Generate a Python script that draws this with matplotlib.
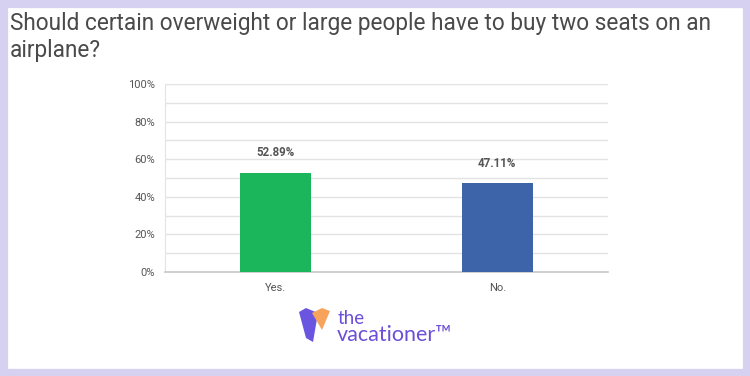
import matplotlib
matplotlib.use("Agg")
import matplotlib.pyplot as plt
from matplotlib.patches import Rectangle, Polygon
from matplotlib.ticker import FuncFormatter

categories = ["Yes.", "No."]
values = [52.89, 47.11]
value_labels = ["52.89%", "47.11%"]
colors = ["#1bb55c", "#3d63a8"]
yticks = [0, 20, 40, 60, 80, 100]

title = "Should certain overweight or large people have to buy two seats on an\nairplane?"

fig = plt.figure(figsize=(7.5, 3.76), dpi=100)
fig.patch.set_facecolor("white")

# lavender frame
fig.add_artist(Rectangle((0, 0), 1, 1, transform=fig.transFigure, fill=False,
                         edgecolor="#d6d1f1", linewidth=11, zorder=0))

fig.text(10/750, 1 - 12/376, title, ha="left", va="top", fontsize=16.3,
         color="#4a4a4a", family=["Roboto", "DejaVu Sans"],
         linespacing=1.2)

ax = fig.add_axes([165/750, 1 - 272/376, 443/750, 188/376])
x = list(range(len(categories)))
ax.bar(x, values, width=0.32, color=colors, zorder=3)
for xi, v, lab in zip(x, values, value_labels):
    ax.annotate(lab, (xi, v), xytext=(0, 10), textcoords="offset points",
                ha="center", va="bottom", fontsize=8.3, fontweight="bold",
                color="#555555", family=["Roboto", "DejaVu Sans"])

ax.set_xlim(-0.5, 1.5)
ax.set_ylim(0, 100)
ax.set_yticks(yticks)
ax.set_yticks(range(10, 100, 20), minor=True)
ax.yaxis.set_major_formatter(FuncFormatter(lambda v, p: f"{int(v)}%"))
ax.set_xticks(x)
ax.set_xticklabels(categories)
ax.grid(axis="y", which="both", color="#e3e3e3", linewidth=1, zorder=0)
ax.tick_params(axis="y", which="both", length=0, pad=7, labelsize=8, labelcolor="#555555")
ax.tick_params(axis="x", length=0, pad=8, labelsize=8, labelcolor="#555555")
for lab in ax.get_xticklabels() + ax.get_yticklabels():
    lab.set_family(["Roboto", "DejaVu Sans"])
for s in ["top", "right"]:
    ax.spines[s].set_visible(False)
ax.spines["left"].set_color("#e3e3e3")
ax.spines["bottom"].set_color("#c8c8c8")
ax.spines["bottom"].set_linewidth(1.2)

# logo
fig.add_artist(Polygon([(299/750, 1-312/376), (306/750, 1-308/376), (318/750, 1-313/376),
                        (313/750, 1-342/376), (306/750, 1-338/376)],
                       closed=True, transform=fig.transFigure, facecolor="#6a55e0",
                       edgecolor="none"))
fig.add_artist(Polygon([(312/750, 1-313/376), (322/750, 1-308/376), (330/750, 1-311/376),
                        (322/750, 1-330/376)],
                       closed=True, transform=fig.transFigure, facecolor="#f7a35c",
                       edgecolor="none"))
fig.text(338/750, 1 - 318/376, "the", ha="left", va="center", fontsize=13.5,
         color="#6b4fd8", family=["Lato", "DejaVu Sans"])
fig.text(337/750, 1 - 335/376, "vacationer\u2122", ha="left", va="center", fontsize=15.5,
         color="#6b4fd8", family=["Lato", "DejaVu Sans"])

fig.savefig("out.png", dpi=100)
